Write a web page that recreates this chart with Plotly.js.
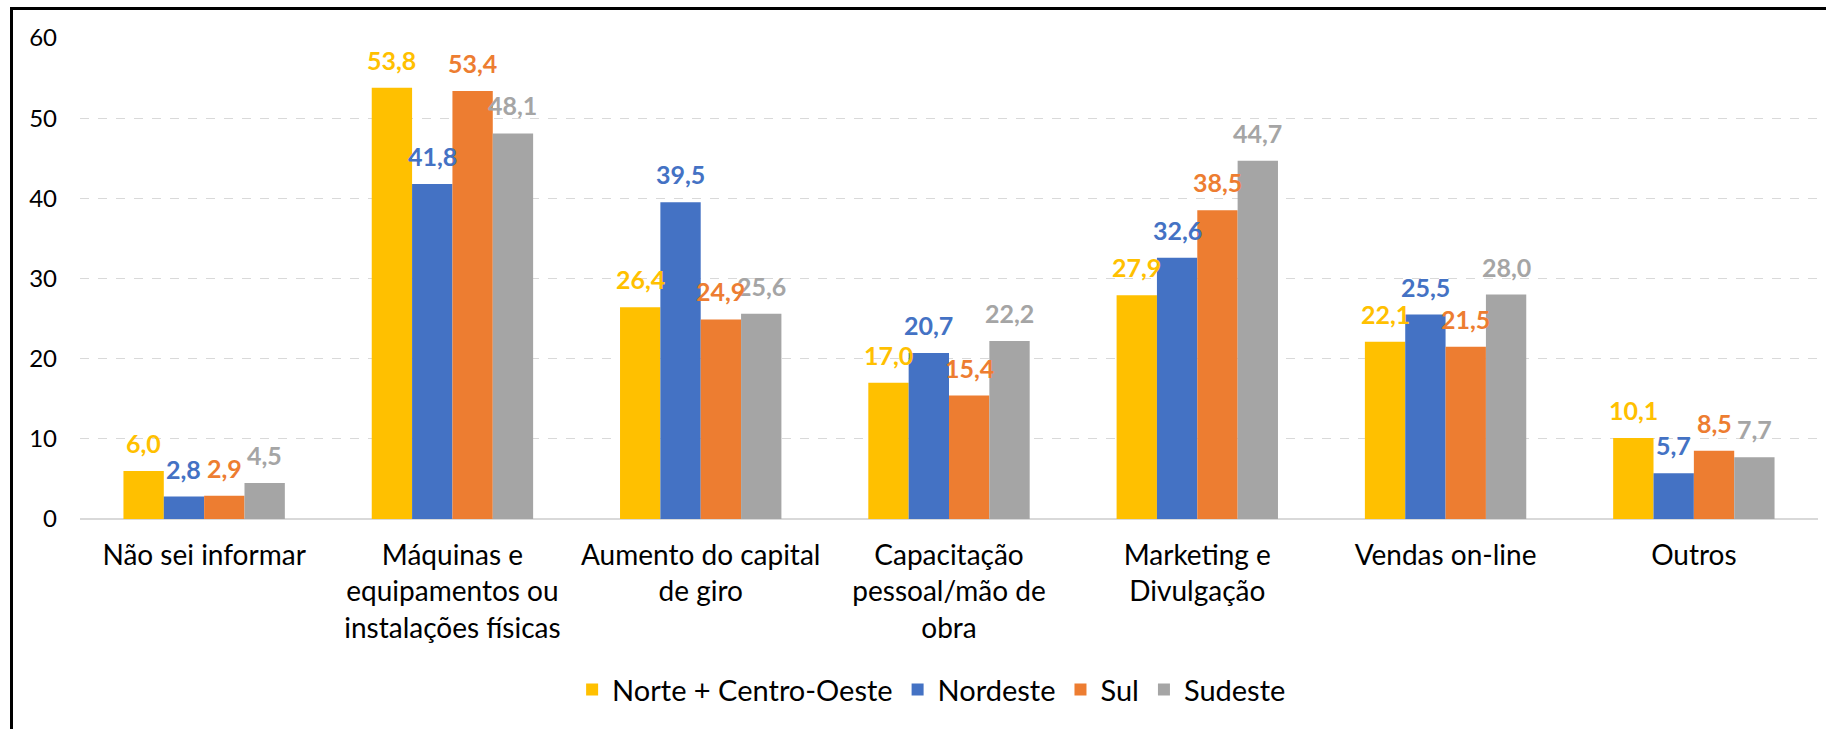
<!DOCTYPE html>
<html>
<head>
<meta charset="utf-8">
<script src="https://cdn.plot.ly/plotly-3.0.1.min.js"></script>
<style>
	body {margin: 0; background: #fff; overflow: hidden;}
	#frame {position: absolute; left: 10px; top: 7px; width: 1900px; height: 800px; border-left: 3px solid #000; border-top: 3px solid #000;}
	#chart {position: absolute; left: 0; top: 0; width: 1826px; height: 729px;}
</style>
</head>
<body>
<div id="frame"></div>
<div id="chart"></div>
<script>
let categories = [
	"Não sei informar",
	"Máquinas e<br>equipamentos ou<br>instalações físicas",
	"Aumento do capital<br>de giro",
	"Capacitação<br>pessoal/mão de<br>obra",
	"Marketing e<br>Divulgação",
	"Vendas on-line",
	"Outros"
]

let seriesNames = ["Norte + Centro-Oeste", "Nordeste", "Sul", "Sudeste"]
let seriesColors = ["#FFC000", "#4472C4", "#ED7D31", "#A5A5A5"]

let norteCentroOeste = [6.0, 53.8, 26.4, 17.0, 27.9, 22.1, 10.1]
let nordeste = [2.8, 41.8, 39.5, 20.7, 32.6, 25.5, 5.7]
let sul = [2.9, 53.4, 24.9, 15.4, 38.5, 21.5, 8.5]
let sudeste = [4.5, 48.1, 25.6, 22.2, 44.7, 28.0, 7.7]

let yTicks = [0, 10, 20, 30, 40, 50, 60]

let fontFamily = "Lato, 'Open Sans', sans-serif"
let barGap = 0.35

let allSeries = [norteCentroOeste, nordeste, sul, sudeste]

let data = allSeries.map((values, i) => {
	return {
		type: "bar",
		name: seriesNames[i],
		x: categories,
		y: values,
		marker: {color: seriesColors[i], line: {width: 0}},
		hoverinfo: "skip"
	}
})

//Data labels as annotations, placed over each bar of the group (category index + offset).
//Pushed last series first so the earlier labels sit on top where they touch.
let barWidth = (1 - barGap) / allSeries.length
let annotations = []
for (let i = allSeries.length - 1; i >= 0; i--) {
	let values = allSeries[i]
	let offset = (i - (allSeries.length - 1) / 2) * barWidth
	values.forEach((value, j) => {
		annotations.push({
			xref: "x",
			yref: "y",
			x: j + offset,
			y: value,
			text: value.toFixed(1).replace(".", ","),
			showarrow: false,
			xanchor: "center",
			yanchor: "bottom",
			yshift: 12,
			borderpad: 0,
			font: {family: fontFamily, size: 25, color: seriesColors[i], weight: "bold"}
		})
	})
}

let layout = {
	width: 1826,
	height: 729,
	paper_bgcolor: "rgba(0,0,0,0)",
	plot_bgcolor: "rgba(0,0,0,0)",
	separators: ",.",
	barmode: "group",
	bargap: barGap,
	bargroupgap: 0,
	margin: {l: 80, r: 8, t: 38, b: 210},
	font: {family: fontFamily, size: 24, color: "#000"},
	xaxis: {
		tickfont: {size: 28},
		ticks: "",
		ticklabelstandoff: 17,
		showline: false,
		showgrid: false
	},
	yaxis: {
		range: [0, 60],
		tickvals: yTicks,
		tickfont: {size: 24},
		ticks: "",
		ticklabelstandoff: 22,
		showgrid: true,
		gridcolor: "#D9D9D9",
		griddash: "dash",
		gridwidth: 1,
		zeroline: true,
		zerolinecolor: "#D9D9D9",
		zerolinewidth: 2,
		showline: false
	},
	annotations: annotations,
	showlegend: true,
	legend: {
		orientation: "h",
		x: 0.49,
		xanchor: "center",
		y: -0.355,
		yanchor: "middle",
		font: {size: 29},
		itemwidth: 30,
		traceorder: "normal"
	}
}

Plotly.newPlot("chart", data, layout, {displayModeBar: false, staticPlot: true})
</script>
</body>
</html>
